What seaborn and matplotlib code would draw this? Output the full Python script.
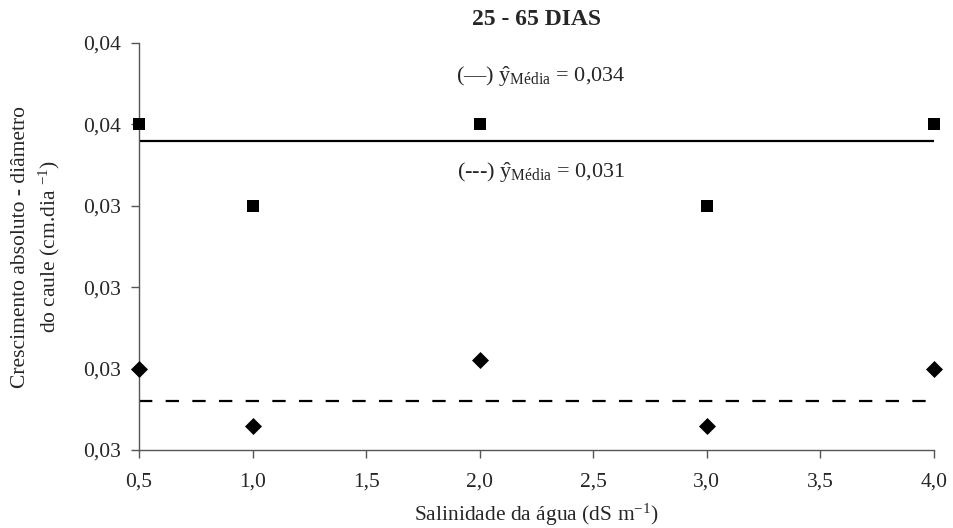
import matplotlib
matplotlib.use("Agg")
import matplotlib.pyplot as plt
import seaborn as sns
import pandas as pd
from matplotlib.ticker import FuncFormatter

# ---- data ----
salinity_sq = [0.5, 1.0, 2.0, 3.0, 4.0]
values_sq = [0.0350, 0.0340, 0.0350, 0.0340, 0.0350]
salinity_di = [0.5, 1.0, 2.0, 3.0, 4.0]
values_di = [0.0320, 0.0313, 0.0321, 0.0313, 0.0320]
mean_solid = 0.0348
mean_dashed = 0.0316
xticks = [0.5, 1.0, 1.5, 2.0, 2.5, 3.0, 3.5, 4.0]
yticks = [0.031, 0.032, 0.033, 0.034, 0.035, 0.036]

sns.set_theme(style="ticks")
plt.rcParams['font.family'] = ['Liberation Serif', 'DejaVu Serif']
plt.rcParams['mathtext.fontset'] = 'custom'
plt.rcParams['mathtext.rm'] = 'Liberation Serif'
plt.rcParams['mathtext.it'] = 'Liberation Serif:italic'
plt.rcParams['mathtext.bf'] = 'Liberation Serif:bold'

df_sq = pd.DataFrame({"x": salinity_sq, "y": values_sq})
df_di = pd.DataFrame({"x": salinity_di, "y": values_di})

fig = plt.figure(figsize=(9.54, 5.28), dpi=100)
ax = fig.add_axes([139/954, 1-450/528, (934-139)/954, (450-43)/528])

ax.axhline(mean_solid, color="black", lw=1.6, ls="-", zorder=2)
ax.axhline(mean_dashed, color="black", lw=1.6, ls=(0, (6, 6)), zorder=2)

sns.scatterplot(data=df_sq, x="x", y="y", marker="s", color="black", s=80,
                linewidth=0, ax=ax, legend=False, zorder=3)
sns.scatterplot(data=df_di, x="x", y="y", marker="D", color="black", s=75,
                linewidth=0, ax=ax, legend=False, zorder=3)
for coll in ax.collections:
    coll.set_clip_on(False)

ax.set_xlim(0.5, 4.0)
ax.set_ylim(0.031, 0.036)
ax.set_xticks(xticks)
ax.set_yticks(yticks)
ax.xaxis.set_major_formatter(FuncFormatter(lambda v, p: f"{v:.1f}".replace(".", ",")))
ax.yaxis.set_major_formatter(FuncFormatter(lambda v, p: f"{v:.2f}".replace(".", ",")))
ax.tick_params(axis="both", labelsize=15.5, length=6, width=1, color="#555555", direction="out")
ax.tick_params(axis="x", pad=10)
ax.tick_params(axis="y", pad=7)
for s in ["top", "right"]:
    ax.spines[s].set_visible(False)
for s in ["left", "bottom"]:
    ax.spines[s].set_color("#555555")
    ax.spines[s].set_linewidth(1)

ax.set_xlabel("Salinidade da água (dS m$^{-1}$)", fontsize=15.5, va="top")
ax.xaxis.set_label_coords(0.5, -0.128)
ax.set_ylabel("Crescimento absoluto - diâmetro\ndo caule (cm.dia $^{-1}$)", fontsize=15.5,
              linespacing=1.35)
ax.yaxis.set_label_coords(-0.097, 0.5)
ax.set_title("25 - 65 DIAS", fontsize=17, fontweight="bold", pad=13)

xc = 0.5 + (541-139)/(934-139)*3.5
ax.text(xc, 0.036 - (77-43)/81.4*0.001,
        r"(—) $\hat{\mathrm{y}}_{\mathrm{Média}}$ = 0,034", ha="center", va="center", fontsize=16)
ax.text(xc, 0.036 - (173-43)/81.4*0.001,
        r"(---) $\hat{\mathrm{y}}_{\mathrm{Média}}$ = 0,031", ha="center", va="center", fontsize=16)

fig.savefig("out.png", dpi=100)
